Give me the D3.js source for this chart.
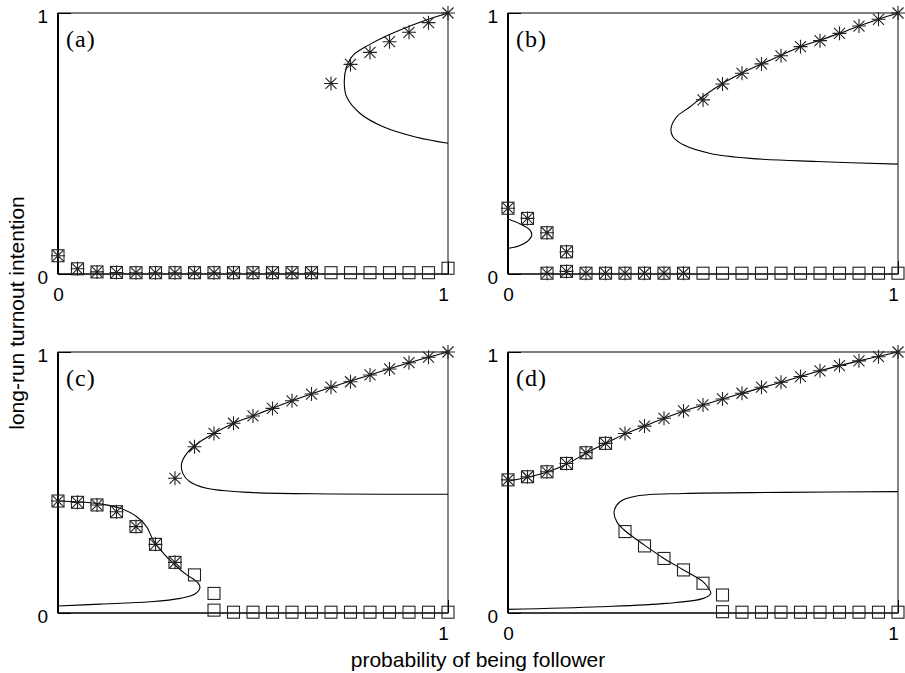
<!DOCTYPE html>
<html>
<head>
<meta charset="utf-8">
<script src="https://cdn.jsdelivr.net/npm/d3@7"></script>
<style>
  body { margin: 0; background: #fff; }
  text { font-family: "Liberation Sans", Arial, sans-serif; }
</style>
</head>
<body>
<div id="wrapper"></div>
<script>
// values: [probability of being follower, long-run turnout intention]

// panel (a)
const aSquares = [[0,0.07],[0.05,0.02],[0.1,0.008],[0.15,0.006],[0.2,0.005],[0.25,0.005],[0.3,0.005],
  [0.35,0.005],[0.4,0.005],[0.45,0.005],[0.5,0.005],[0.55,0.005],[0.6,0.005],[0.65,0.005],[0.7,0.005],
  [0.75,0.005],[0.8,0.005],[0.85,0.005],[0.9,0.005],[0.95,0.005],[1,0.022]];
const aStars = [[0,0.07],[0.05,0.02],[0.1,0.008],[0.15,0.006],[0.2,0.005],[0.25,0.005],[0.3,0.005],
  [0.35,0.005],[0.4,0.005],[0.45,0.005],[0.5,0.005],[0.55,0.005],[0.6,0.005],[0.65,0.005],
  [0.7,0.73],[0.75,0.803],[0.8,0.849],[0.85,0.89],[0.9,0.926],[0.95,0.963],[1,1]];
const aFold = [[1,1],[0.95,0.976],[0.899,0.948],[0.847,0.916],[0.796,0.877],[0.757,0.839],[0.74,0.794],
  [0.734,0.737],[0.74,0.679],[0.774,0.616],[0.834,0.564],[0.919,0.524],[1,0.501]];

// panel (b)
const bSquares = [[0,0.252],[0.05,0.213],[0.1,0.158],[0.1,0.003],[0.15,0.085],[0.15,0.01],[0.2,0.003],
  [0.25,0.003],[0.3,0.003],[0.35,0.003],[0.4,0.003],[0.45,0.003],[0.5,0.003],[0.55,0.003],[0.6,0.003],
  [0.65,0.003],[0.7,0.003],[0.75,0.003],[0.8,0.003],[0.85,0.003],[0.9,0.003],[0.95,0.003],[1,0.003]];
const bStars = [[0,0.252],[0.05,0.213],[0.1,0.158],[0.1,0.003],[0.15,0.085],[0.15,0.01],[0.2,0.003],
  [0.25,0.003],[0.3,0.003],[0.35,0.003],[0.4,0.003],[0.45,0.003],
  [0.5,0.667],[0.55,0.728],[0.6,0.769],[0.65,0.805],[0.7,0.836],[0.75,0.871],[0.8,0.894],[0.85,0.922],
  [0.9,0.95],[0.95,0.976],[1,1]];
const bFold = [[1,1],[0.95,0.976],[0.9,0.95],[0.85,0.922],[0.8,0.896],[0.75,0.871],[0.7,0.838],[0.65,0.805],
  [0.6,0.77],[0.55,0.73],[0.5,0.68],[0.467,0.641],[0.433,0.603],[0.418,0.558],[0.423,0.526],[0.451,0.494],
  [0.519,0.462],[0.621,0.443],[0.792,0.431],[1,0.421]];
const bSmallFold = [[0,0.211],[0.031,0.192],[0.056,0.169],[0.061,0.149],[0.052,0.128],[0.027,0.107],[0,0.098]];

// panel (c)
const cSquares = [[0,0.429],[0.05,0.424],[0.1,0.414],[0.15,0.388],[0.2,0.331],[0.25,0.263],[0.3,0.194],
  [0.35,0.146],[0.4,0.075],[0.4,0.011],[0.45,0.003],[0.5,0.003],[0.55,0.003],[0.6,0.003],[0.65,0.003],
  [0.7,0.003],[0.75,0.003],[0.8,0.003],[0.85,0.003],[0.9,0.003],[0.95,0.003],[1,0.003]];
const cStars = [[0,0.429],[0.05,0.424],[0.1,0.414],[0.15,0.388],[0.2,0.331],[0.25,0.263],[0.3,0.194],
  [0.3,0.516],[0.35,0.637],[0.4,0.688],[0.45,0.727],[0.5,0.755],[0.55,0.784],[0.6,0.813],[0.65,0.839],
  [0.7,0.865],[0.75,0.886],[0.8,0.912],[0.85,0.935],[0.9,0.959],[0.95,0.98],[1,1]];
const cFold = [[1,1],[0.9,0.959],[0.8,0.912],[0.7,0.865],[0.6,0.813],[0.5,0.755],[0.45,0.727],[0.4,0.688],
  [0.364,0.656],[0.334,0.618],[0.317,0.573],[0.32,0.535],[0.338,0.503],[0.381,0.478],[0.492,0.462],
  [0.706,0.456],[1,0.455]];
const cLowFold = [[0,0.429],[0.098,0.42],[0.159,0.401],[0.202,0.369],[0.227,0.331],[0.244,0.28],[0.27,0.229],
  [0.3,0.184],[0.33,0.146],[0.356,0.12],[0.364,0.098],[0.351,0.073],[0.313,0.056],[0.236,0.043],
  [0.108,0.034],[0,0.027]];

// panel (d)
const dSquares = [[0,0.51],[0.05,0.522],[0.1,0.541],[0.15,0.573],[0.2,0.614],[0.25,0.65],[0.3,0.312],
  [0.35,0.257],[0.4,0.209],[0.45,0.165],[0.5,0.114],[0.55,0.069],[0.55,0.005],[0.6,0.003],[0.65,0.003],
  [0.7,0.003],[0.75,0.003],[0.8,0.003],[0.85,0.003],[0.9,0.003],[0.95,0.003],[1,0.003]];
const dStars = [[0,0.51],[0.05,0.522],[0.1,0.541],[0.15,0.573],[0.2,0.614],[0.25,0.65],[0.3,0.688],
  [0.35,0.716],[0.4,0.746],[0.45,0.774],[0.5,0.797],[0.55,0.82],[0.6,0.842],[0.65,0.865],[0.7,0.884],
  [0.75,0.906],[0.8,0.928],[0.85,0.948],[0.9,0.966],[0.95,0.982],[1,1]];
const dUpper = [[0,0.505],[0.05,0.52],[0.1,0.54],[0.15,0.57],[0.2,0.612],[0.25,0.65],[0.3,0.686],[0.35,0.716],
  [0.4,0.746],[0.45,0.773],[0.5,0.797],[0.6,0.842],[0.7,0.884],[0.8,0.928],[0.9,0.966],[1,1]];
const dFold = [[1,0.465],[0.706,0.462],[0.45,0.458],[0.33,0.448],[0.288,0.427],[0.272,0.388],[0.279,0.35],
  [0.298,0.318],[0.349,0.261],[0.399,0.21],[0.45,0.165],[0.5,0.12],[0.514,0.095],[0.52,0.075],
  [0.501,0.056],[0.407,0.037],[0.236,0.024],[0,0.014]];

const zeroState = [[0,0],[1,0]];

const panelLabels = ["(a)", "(b)", "(c)", "(d)"];
const xTickValues = [[0,1],[0,1],[1],[0,1]];
const yTickValues = [0,1];
const xLabel = "probability of being follower";
const yLabel = "long-run turnout intention";

const panels = [
  {label: panelLabels[0], squares: aSquares, stars: aStars, curves: [aFold, zeroState], xTicks: xTickValues[0], left: 58, top: 13},
  {label: panelLabels[1], squares: bSquares, stars: bStars, curves: [bFold, bSmallFold, zeroState], xTicks: xTickValues[1], left: 508, top: 13},
  {label: panelLabels[2], squares: cSquares, stars: cStars, curves: [cFold, cLowFold, zeroState], xTicks: xTickValues[2], left: 58, top: 352},
  {label: panelLabels[3], squares: dSquares, stars: dStars, curves: [dUpper, dFold, zeroState], xTicks: xTickValues[3], left: 508, top: 352},
];

let dimensions = {
  width: 905,
  height: 673,
  panelWidth: 390,
  panelHeight: 261,
}

const wrapper = d3.select("#wrapper")
  .append("svg")
    .attr("width", dimensions.width)
    .attr("height", dimensions.height)

const xScale = d3.scaleLinear()
  .domain([0, 1])
  .range([0, dimensions.panelWidth])

const yScale = d3.scaleLinear()
  .domain([0, 1])
  .range([dimensions.panelHeight, 0])

const lineGenerator = d3.line()
  .x(d => xScale(d[0]))
  .y(d => yScale(d[1]))
  .curve(d3.curveCatmullRom.alpha(0.5))

// gnuplot style asterisk: + and x on top of each other
const starPath = "M-7,0H7M0,-7V7M-5.5,-5.5L5.5,5.5M-5.5,5.5L5.5,-5.5"
const boxSize = 12

panels.forEach(p => {
  const bounds = wrapper.append("g")
    .attr("transform", `translate(${p.left},${p.top})`)

  // frame
  bounds.append("rect")
    .attr("width", dimensions.panelWidth)
    .attr("height", dimensions.panelHeight)
    .attr("fill", "none")
    .attr("stroke", "#000")
    .attr("stroke-width", 1)
  bounds.append("line")
    .attr("x1", dimensions.panelWidth).attr("x2", dimensions.panelWidth)
    .attr("y1", 0).attr("y2", dimensions.panelHeight)
    .attr("stroke", "#8a8a8a")
    .attr("stroke-width", 1.2)
  bounds.append("line")
    .attr("x1", 0).attr("x2", 0)
    .attr("y1", 0).attr("y2", dimensions.panelHeight)
    .attr("stroke", "#000")
    .attr("stroke-width", 2)

  const yAxis = bounds.append("g")
    .call(d3.axisLeft(yScale).tickValues(yTickValues).tickFormat(d3.format("d")).tickSize(-13).tickPadding(10))
  const xAxis = bounds.append("g")
    .attr("transform", `translate(0,${dimensions.panelHeight})`)
    .call(d3.axisBottom(xScale).tickValues(p.xTicks).tickFormat(d3.format("d")).tickSize(-13).tickPadding(14))

  ;[yAxis, xAxis].forEach(axis => {
    axis.select(".domain").remove()
    axis.attr("font-family", null).attr("font-size", null)
    axis.selectAll("text").attr("font-size", 19).attr("fill", "#000")
    axis.selectAll("line").attr("stroke", "#000")
  })
  yAxis.selectAll("text").attr("dy", "0.5em")
  xAxis.selectAll("text").attr("dx", d => d === 1 ? -5 : 0)

  // curves
  bounds.selectAll(".curve")
    .data(p.curves)
    .join("path")
      .attr("class", "curve")
      .attr("d", lineGenerator)
      .attr("fill", "none")
      .attr("stroke", "#000")
      .attr("stroke-width", 1.1)

  // squares
  bounds.selectAll(".square")
    .data(p.squares)
    .join("rect")
      .attr("class", "square")
      .attr("x", d => xScale(d[0]) - boxSize / 2)
      .attr("y", d => yScale(d[1]) - boxSize / 2)
      .attr("width", boxSize)
      .attr("height", boxSize)
      .attr("fill", "none")
      .attr("stroke", "#222")
      .attr("stroke-width", 1.1)

  // stars
  bounds.selectAll(".star")
    .data(p.stars)
    .join("path")
      .attr("class", "star")
      .attr("d", starPath)
      .attr("transform", d => `translate(${xScale(d[0])},${yScale(d[1])})`)
      .attr("fill", "none")
      .attr("stroke", "#222")
      .attr("stroke-width", 1.1)

  bounds.append("text")
    .attr("x", 8)
    .attr("y", 34)
    .style("font-family", "'Liberation Serif', 'Times New Roman', serif")
    .style("letter-spacing", "1px")
    .attr("font-size", 24)
    .text(p.label)
})

wrapper.append("text")
  .attr("transform", "translate(24,313) rotate(-90)")
  .attr("text-anchor", "middle")
  .attr("font-size", 21)
  .text(yLabel)

wrapper.append("text")
  .attr("x", 478)
  .attr("y", 667)
  .attr("text-anchor", "middle")
  .attr("font-size", 21)
  .text(xLabel)
</script>
</body>
</html>
